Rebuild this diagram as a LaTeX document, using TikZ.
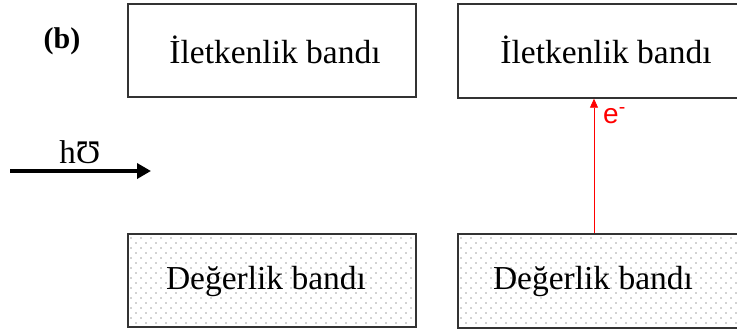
\documentclass[tikz,border=0pt]{standalone}
\usepackage{fontspec}
\setmainfont{Liberation Serif}
\newfontfamily\esans{Liberation Sans}
\usetikzlibrary{arrows.meta}
\begin{document}
\begin{tikzpicture}[x=1pt,y=-1pt,
  band/.style={draw=black!80,line width=1.4pt,rectangle,inner sep=0pt},
  btext/.style={anchor=base,inner sep=0pt,font=\fontsize{33.5}{38}\selectfont},
  dotfill/.style={fill=black!75}]
\useasboundingbox (0,0) rectangle (737,333);
\clip (0,0) rectangle (737,333);
% dot patterns
\begin{scope}
\clip (128,234) rectangle (416,327);
\foreach \r in {0,...,18}{\foreach \c in {0,...,29}{
  \fill[dotfill] ({131+\c*10+mod(\r,2)*5},{238+\r*5}) circle (0.6pt);}}
\end{scope}
\begin{scope}
\clip (458,234) rectangle (760,328);
\foreach \r in {0,...,18}{\foreach \c in {0,...,30}{
  \fill[dotfill] ({461+\c*10+mod(\r,2)*5},{238+\r*5}) circle (0.6pt);}}
\end{scope}
% boxes
\node[band,minimum width=288pt,minimum height=93pt] (c1) at (272,50.5) {};
\node[band,minimum width=296pt,minimum height=94pt] (c2) at (606,51) {};
\node[band,line width=1.8pt,minimum width=288pt,minimum height=93pt] (v1) at (272,280.5) {};
\node[band,line width=1.8pt,minimum width=296pt,minimum height=94pt] (v2) at (606,281) {};
% texts
\node[btext] (t1) at (275,63) {İletkenlik bandı};
\node[btext] (t2) at (606,63) {İletkenlik bandı};
\node[btext] (t3) at (266,289) {Değerlik bandı};
\node[btext] (t4) at (593,289) {Değerlik bandı};
\node[anchor=base,inner sep=0pt,font=\fontsize{30}{34}\selectfont\bfseries] (lb) at (62,48) {(b)};
% h nu arrow
\coordinate (a1) at (10,171);
\coordinate (a2) at (151,171);
\draw[line width=3.5pt,-{Triangle[length=14pt,width=15pt]}] (a1) -- (a2);
\node[anchor=base,inner sep=0pt,font=\fontsize{33}{36}\selectfont] (hv) at (80,163) {hƱ};
% electron arrow
\coordinate (ex) at (594,0);
\draw[red,line width=0.8pt,-{Triangle[length=9pt,width=8pt]}] (v2.north -| ex) -- (c2.south -| ex);
\node[anchor=base west,inner sep=0pt,text=red,font=\esans\fontsize{28}{32}\selectfont] (el) at (603,123) {e\textsuperscript{-}};
\end{tikzpicture}
\end{document}
